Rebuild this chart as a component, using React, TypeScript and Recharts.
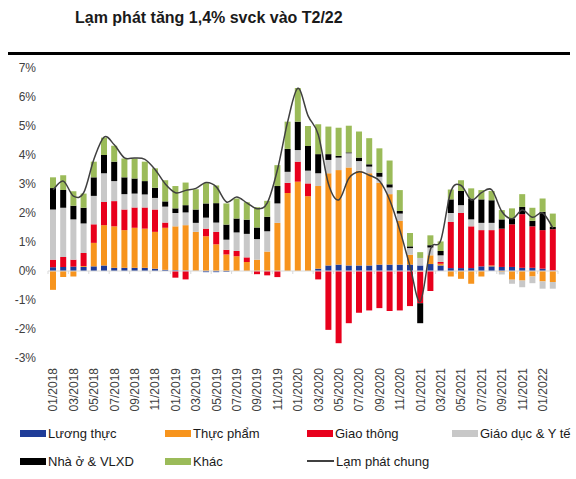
import React from "react";
import {
  ComposedChart,
  Bar,
  Line,
  XAxis,
  YAxis,
  ReferenceLine,
} from "recharts";

const months = [
  "01/2018", "02/2018", "03/2018", "04/2018", "05/2018", "06/2018", "07/2018", "08/2018", "09/2018", "10/2018",
  "11/2018", "12/2018", "01/2019", "02/2019", "03/2019", "04/2019", "05/2019", "06/2019", "07/2019", "08/2019",
  "09/2019", "10/2019", "11/2019", "12/2019", "01/2020", "02/2020", "03/2020", "04/2020", "05/2020", "06/2020",
  "07/2020", "08/2020", "09/2020", "10/2020", "11/2020", "12/2020", "01/2021", "02/2021", "03/2021", "04/2021",
  "05/2021", "06/2021", "07/2021", "08/2021", "09/2021", "10/2021", "11/2021", "12/2021", "01/2022", "02/2022",
];

// đóng góp vào CPI (điểm %)
const luongThuc = [
  0.13, 0.14, 0.15, 0.14, 0.16, 0.19, 0.11, 0.11, 0.11, 0.11,
  0.08, 0.04, 0.03, 0.02, 0.01, -0.04, -0.04, -0.03, 0, 0,
  0, 0, 0, 0, 0, 0, 0.08, 0.19, 0.22, 0.19,
  0.19, 0.19, 0.22, 0.22, 0.22, 0.22, 0.19, 0.24, 0.19, 0.1,
  0.1, 0.1, 0.16, 0.16, 0.14, 0.14, 0.11, 0.11, 0.08, 0.02,
];
const thucPham = [
  -0.65, -0.21, -0.19, 0.03, 0.81, 1.39, 1.43, 1.3, 1.38, 1.35,
  1.27, 1.45, 1.51, 1.56, 1.34, 1.2, 0.92, 0.57, 0.51, 0.31,
  0.39, 0.67, 1.66, 2.69, 3.08, 2.58, 2.85, 3.18, 3.26, 3.38,
  3.27, 3.18, 2.82, 2.43, 1.51, 0.34, -0.02, 0.3, 0.06, -0.19,
  -0.27, -0.44, -0.19, 0.03, -0.03, -0.3, -0.33, -0.19, -0.36, -0.38,
];
const giaoThong = [
  0.26, 0.34, 0.24, 0.45, 0.64, 0.8, 0.87, 0.71, 0.7, 0.73,
  0.77, 0.18, -0.23, -0.29, 0, 0.26, 0.43, 0.16, 0.18, 0.16,
  -0.11, -0.15, -0.21, 0.35, 0.69, 0.44, -0.29, -2.03, -2.49, -1.8,
  -1.44, -1.36, -1.28, -1.38, -1.36, -1.21, -1.09, -0.69, 0.06, 1.59,
  1.9, 1.44, 1.25, 1.22, 1.32, 1.47, 1.85, 1.43, 1.33, 1.42,
];
const giaoDucYTe = [
  1.73, 1.7, 1.39, 1.02, 0.98, 0.99, 0.69, 0.53, 0.48, 0.45,
  0.4, 0.55, 0.46, 0.44, 0.31, 0.38, 0.32, 0.35, 0.64, 0.81,
  0.71, 0.7, 0.67, 0.38, 0.4, 0.44, 0.44, 0.46, 0.43, 0.49,
  0.33, 0.23, 0.21, 0.23, 0.25, 0.23, 0.26, 0.27, 0.23, 0.31,
  0.27, 0.24, 0.25, 0.25, -0.09, -0.14, -0.23, -0.23, -0.25, -0.23,
];
const nhaO = [
  0.74, 0.61, 0.47, 0.54, 0.64, 0.63, 0.67, 0.58, 0.52, 0.46,
  0.35, 0.18, 0.16, 0.25, 0.46, 0.49, 0.67, 0.52, 0.48, 0.49,
  0.4, 0.5, 0.6, 0.79, 0.98, 0.85, 0.66, 0.2, 0.06, 0.03,
  0.12, 0.08, 0.14, 0.11, 0.09, 0.06, -0.69, 0.08, 0.15, 0.47,
  0.49, 0.72, 0.81, 0.78, 0.32, 0.2, 0.25, 0.19, 0.63, 0.08,
];
const khac = [
  0.37, 0.51, 0.5, 0.49, 0.54, 0.6, 0.55, 0.65, 0.69, 0.67,
  0.67, 0.73, 0.77, 0.78, 0.7, 0.7, 0.61, 0.73, 0.69, 0.6,
  0.7, 0.55, 0.72, 0.94, 1.16, 0.69, 1.03, 0.95, 0.97, 0.92,
  0.9, 0.9, 0.84, 0.82, 0.72, 0.46, 0.2, 0.34, 0.33, 0.34,
  0.37, 0.35, 0.32, 0.32, 0.32, 0.35, 0.44, 0.45, 0.46, 0.46,
];
const lamPhatChung = [
  2.8, 3.1, 2.58, 2.7, 3.85, 4.62, 4.35, 3.9, 3.9, 3.85,
  3.5, 3.0, 2.7, 2.78, 2.85, 3.05, 2.9, 2.38, 2.55, 2.35,
  2.15, 2.35, 3.5, 5.15, 6.3, 5.35, 4.7, 3.0, 2.45, 3.2,
  3.42, 3.3, 3.1, 2.45, 1.4, 0.15, -1.05, 0.75, 1.05, 2.75,
  2.95, 2.45, 2.7, 2.8, 2.05, 1.8, 2.1, 1.85, 2.0, 1.48,
];

const yTicks = [-3, -2, -1, 0, 1, 2, 3, 4, 5, 6, 7];

const series = [
  { key: "luongThuc", name: "Lương thực", color: "#1f3c98" },
  { key: "thucPham", name: "Thực phẩm", color: "#f7941d" },
  { key: "giaoThong", name: "Giao thông", color: "#e8001c" },
  { key: "giaoDucYTe", name: "Giáo dục & Y tế", color: "#c8c8c8" },
  { key: "nhaO", name: "Nhà ở & VLXD", color: "#000000" },
  { key: "khac", name: "Khác", color: "#9bbb59" },
];

const data = months.map((m, i) => ({
  month: m,
  luongThuc: luongThuc[i],
  thucPham: thucPham[i],
  giaoThong: giaoThong[i],
  giaoDucYTe: giaoDucYTe[i],
  nhaO: nhaO[i],
  khac: khac[i],
  lamPhat: lamPhatChung[i],
}));

const FONT = "'Liberation Sans', Arial, sans-serif";

// đường cong mượt kiểu Excel (Catmull-Rom)
function smoothCurve(context: any) {
  let pts: number[][] = [];
  return {
    areaStart() {},
    areaEnd() {},
    lineStart() {
      pts = [];
    },
    point(x: number, y: number) {
      pts.push([+x, +y]);
    },
    lineEnd() {
      if (!pts.length) return;
      context.moveTo(pts[0][0], pts[0][1]);
      const t = 1 / 6;
      for (let i = 0; i < pts.length - 1; i++) {
        const p0 = pts[i - 1] || pts[i];
        const p1 = pts[i];
        const p2 = pts[i + 1];
        const p3 = pts[i + 2] || p2;
        context.bezierCurveTo(
          p1[0] + (p2[0] - p0[0]) * t,
          p1[1] + (p2[1] - p0[1]) * t,
          p2[0] - (p3[0] - p1[0]) * t,
          p2[1] - (p3[1] - p1[1]) * t,
          p2[0],
          p2[1]
        );
      }
    },
  };
}

// trục 0% với vạch chia giữa các nhóm (mỗi 2 tháng)
function ZeroAxis(props: any) {
  const { x1, y1, x2 } = props;
  if (x1 == null || y1 == null || x2 == null) return null;
  const n = months.length;
  const band = (x2 - x1) / n;
  const ticks = [];
  for (let k = 0; k <= n; k += 2) {
    const x = x1 + k * band;
    ticks.push(<line key={k} x1={x} x2={x} y1={y1} y2={y1 + 3} stroke="#d9d9d9" />);
  }
  return (
    <g>
      <line x1={x1} x2={x2} y1={y1} y2={y1} stroke="#d9d9d9" />
      {ticks}
    </g>
  );
}

function MonthTick({ x, y, payload }: any) {
  return (
    <g transform={`translate(${x},${y})`}>
      <text
        transform="rotate(-90)"
        textAnchor="end"
        dy="0.35em"
        x={-2}
        fontSize={12}
        fill="#404040"
        fontFamily={FONT}
      >
        {payload.value}
      </text>
    </g>
  );
}

function LegendItem({ label, color, line, left, top }: any) {
  return (
    <div style={{ position: "absolute", left, top, display: "flex", alignItems: "center", height: 16 }}>
      {line ? (
        <div style={{ width: 27, height: 1.5, background: "#404040" }} />
      ) : (
        <div style={{ width: 26, height: 7, background: color }} />
      )}
      <span style={{ marginLeft: 2, fontSize: 13, color: "#1a1a1a", fontFamily: FONT, whiteSpace: "nowrap" }}>
        {label}
      </span>
    </div>
  );
}

export default function App() {
  const legendPos = [
    { left: 20, top: 425 },
    { left: 165, top: 425 },
    { left: 307, top: 425 },
    { left: 452, top: 425 },
    { left: 20, top: 453 },
    { left: 165, top: 453 },
  ];

  return (
    <div style={{ position: "absolute", left: 0, top: 0, width: 576, height: 479, background: "#fff", overflow: "hidden" }}>
      <div
        style={{
          position: "absolute",
          left: 75,
          top: 9,
          fontFamily: FONT,
          fontWeight: "bold",
          fontSize: 16,
          color: "#1a1a1a",
          whiteSpace: "nowrap",
        }}
      >
        Lạm phát tăng 1,4% svck vào T2/22
      </div>
      <div style={{ position: "absolute", left: 8, top: 52, width: 562, height: 3, background: "#000" }} />

      <div style={{ position: "absolute", left: 0, top: 0 }}>
        <ComposedChart
          width={576}
          height={420}
          data={data}
          stackOffset="sign"
          margin={{ top: 68, right: 18, bottom: 0, left: 0 }}
          barSize={6}
        >
          <XAxis
            dataKey="month"
            height={62}
            interval={1}
            axisLine={false}
            tickLine={false}
            tick={<MonthTick />}
          />
          <YAxis
            width={48}
            domain={[-3, 7]}
            ticks={yTicks}
            tickFormatter={(v: number) => `${v}%`}
            axisLine={false}
            tickLine={false}
            tickMargin={6}
            tick={{ fontSize: 12, fill: "#404040", fontFamily: FONT }}
            interval={0}
          />
          <ReferenceLine y={0} shape={<ZeroAxis />} />
          {series.map((s) => (
            <Bar key={s.key} dataKey={s.key} name={s.name} stackId="a" fill={s.color} isAnimationActive={false} />
          ))}
          <Line
            dataKey="lamPhat"
            name="Lạm phát chung"
            type={smoothCurve as any}
            stroke="#404040"
            strokeWidth={1.5}
            dot={false}
            isAnimationActive={false}
          />
        </ComposedChart>
      </div>

      {series.map((s, i) => (
        <LegendItem key={s.key} label={s.name} color={s.color} left={legendPos[i].left} top={legendPos[i].top} />
      ))}
      <LegendItem label="Lạm phát chung" line left={307} top={453} />
    </div>
  );
}
